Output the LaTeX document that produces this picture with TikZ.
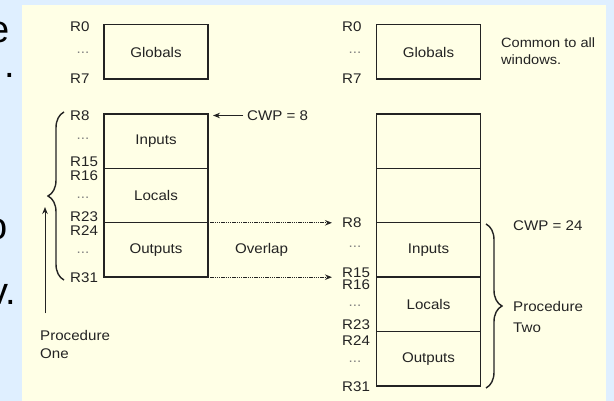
\documentclass[tikz,border=0pt]{standalone}
\usepackage{fontspec}
\setmainfont{Liberation Sans}[FakeStretch=1.08]
\newfontfamily\slidefont{Liberation Sans}
\usepackage{tikz}
\usetikzlibrary{positioning}
\usetikzlibrary{arrows.meta,decorations.pathreplacing}
\definecolor{slideblue}{RGB}{223,239,255}
\definecolor{panelcream}{RGB}{255,255,230}
\definecolor{inkgray}{RGB}{35,35,35}

\begin{document}
\begin{tikzpicture}[x=1pt,y=-1pt,>={Stealth[length=7pt,width=5.5pt]},
    win/.style={draw=inkgray,line width=1.4pt,minimum width=104pt,minimum height=54.4pt,
      inner sep=0pt,outer sep=0pt,text=inkgray,font=\fontsize{14}{16}\selectfont},
    reg/.style={anchor=base west,inner sep=0pt,text=inkgray,font=\fontsize{14}{16}\selectfont},
    dts/.style={anchor=base,inner sep=0pt,text=gray,font=\fontsize{14}{16}\selectfont},
    lbl/.style={inner sep=0pt,text=inkgray,align=left,font=\fontsize{14}{16}\selectfont},
    ptr/.style={->,line width=1pt,draw=inkgray,fill=inkgray},
    ovl/.style={->,dash pattern=on 1.3pt off 0.9pt,line width=1.2pt,draw=inkgray},
    brc/.style={decorate,decoration={brace,amplitude=16pt},line width=1.4pt,draw=inkgray},
    cut/.style={anchor=base east,inner sep=0pt,text=black,font=\slidefont\fontsize{38}{40}\selectfont}]
  \useasboundingbox (0,0) rectangle (614,401);
  \clip (0,0) rectangle (614,401);
  \fill[slideblue] (0,0) rectangle (614,401);
  \fill[panelcream] (22,5) rectangle (606,401);

  % cut-off slide text
  \node[cut] (cutE) at (10,43) {e};
  \node[cut] (cutDot) at (15.5,78) {.};
  \node[cut] (cutO) at (8,240) {o};
  \node[cut] (cutV) at (16,305) {v.};

  % procedure one
  \node[win] (globL) at (156,52) {Globals};
  \node[win] (inL) at (156,141.2) {Inputs};
  \node[win,below=0pt of inL] (locL) {Locals};
  \node[win,below=0pt of locL] (outL) {Outputs};

  \node[reg] (lr0) at (70,32) {R0};
  \node[dts] (ld0) at (83,53.5) {...};
  \node[reg] (lr7) at (70,84) {R7};
  \node[reg] (lr8) at (70,121) {R8};
  \node[dts] (ld1) at (83,139.5) {...};
  \node[reg] (lr15) at (70,167) {R15};
  \node[reg] (lr16) at (70,181) {R16};
  \node[dts] (ld2) at (83,199) {...};
  \node[reg] (lr23) at (70,222) {R23};
  \node[reg] (lr24) at (70,236) {R24};
  \node[dts] (ld3) at (83,254) {...};
  \node[reg] (lr31) at (70,283) {R31};

  \node[lbl,anchor=west] (cwp8) at (247,115.5) {CWP = 8};
  \draw[ptr,shorten <=4pt,shorten >=5pt] (cwp8.west) -- (cwp8.west -| inL.east);

  \draw[brc] (64,280) -- (64,112);
  \coordinate (upfoot) at (45,313);
  \coordinate (uphead) at (45,207);
  \draw[ptr] (upfoot) -- (uphead);
  \node[lbl,anchor=north west,font=\fontsize{14}{18}\selectfont] (procOne) at (40,329.7) {Procedure\\One};

  % procedure two
  \node[win] (globR) at (428.5,52) {Globals};
  \node[win] (blankA) at (428.5,141.2) {};
  \node[win,below=0pt of blankA] (blankB) {};
  \node[win,below=0pt of blankB] (inR) {Inputs};
  \node[win,below=0pt of inR] (locR) {Locals};
  \node[win,below=0pt of locR] (outR) {Outputs};

  \node[reg] (rr0) at (342,32) {R0};
  \node[dts] (rd0) at (355,53.5) {...};
  \node[reg] (rr7) at (342,84) {R7};
  \node[reg] (rr8) at (342,228) {R8};
  \node[dts] (rd1) at (355,248) {...};
  \node[reg] (rr15) at (342,277) {R15};
  \node[reg] (rr16) at (342,290) {R16};
  \node[dts] (rd2) at (355,306.5) {...};
  \node[reg] (rr23) at (342,330) {R23};
  \node[reg] (rr24) at (342,345) {R24};
  \node[dts] (rd3) at (355,362) {...};
  \node[reg] (rr31) at (342,391) {R31};

  \node[lbl,anchor=north west,font=\fontsize{13.5}{17}\selectfont] (common) at (501,37.5) {Common to all\\windows.};
  \node[lbl,anchor=west] (cwp24) at (513,225.5) {CWP = 24};
  \draw[brc] (486,224) -- (486,388);
  \node[lbl,anchor=north west,font=\fontsize{14}{21}\selectfont] (procTwo) at (513,301) {Procedure\\Two};

  % overlap
  \draw[ovl,shorten >=44.5pt] (outL.north east) -- (inR.north west);
  \draw[ovl,shorten >=44.5pt] (outL.south east) -- (inR.south west);
  \node[lbl] (overlap) at (261.5,250) {Overlap};
\end{tikzpicture}
\end{document}
